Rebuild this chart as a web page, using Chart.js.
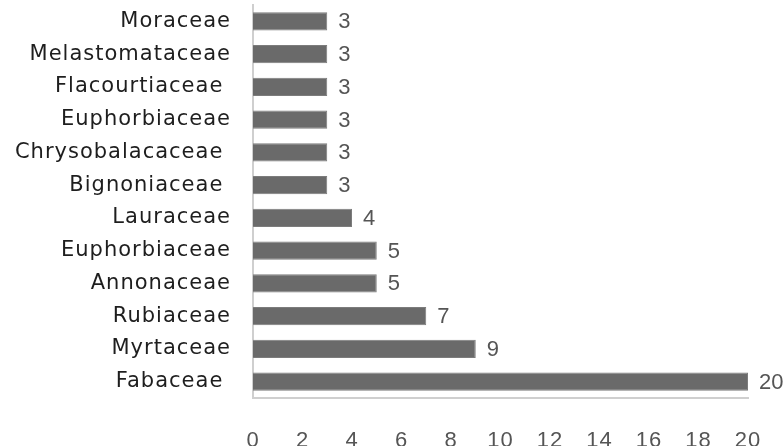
<!DOCTYPE html>
<html>
<head>
<meta charset="utf-8">
<script src="https://cdn.jsdelivr.net/npm/chart.js@4/dist/chart.umd.min.js"></script>
<style>
  html, body { margin: 0; padding: 0; background: #fff; }
  #chart-container { width: 784px; height: 446px; }
</style>
</head>
<body>
<div id="chart-container"><canvas id="grafica"></canvas></div>
<script>
const familias = ["Moraceae", "Melastomataceae", "Flacourtiaceae ", "Euphorbiaceae", "Chrysobalacaceae ",
    "Bignoniaceae ", "Lauraceae", "Euphorbiaceae", "Annonaceae", "Rubiaceae", "Myrtaceae", "Fabaceae "];
const especies = [3, 3, 3, 3, 3, 3, 4, 5, 5, 7, 9, 20];
const ticksX = [0, 2, 4, 6, 8, 10, 12, 14, 16, 18, 20];

// letras separadas en las etiquetas de familias, normales en el resto
const espaciado = {
    id: "espaciado",
    beforeDraw(chart) { chart.ctx.letterSpacing = "1px"; },
    beforeDatasetsDraw(chart) { chart.ctx.letterSpacing = "0px"; }
};

const etiquetasValor = {
    id: "etiquetasValor",
    afterDatasetsDraw(chart) {
        const ctx = chart.ctx;
        const meta = chart.getDatasetMeta(0);
        ctx.save();
        ctx.letterSpacing = "0px";
        ctx.font = "22px 'Liberation Sans Narrow', 'Liberation Sans', sans-serif";
        ctx.fillStyle = "#555";
        ctx.textAlign = "left";
        ctx.textBaseline = "middle";
        meta.data.forEach((bar, i) => {
            ctx.fillText(especies[i], bar.x + 11, bar.y + 1);
        });
        ctx.restore();
    }
};

const ctx = document.getElementById("grafica").getContext("2d");
new Chart(ctx, {
    type: "bar",
    data: {
        labels: familias,
        datasets: [{
            data: especies,
            backgroundColor: "#6a6a6a",
            borderColor: "#7c7c7c",
            borderWidth: 1,
            barPercentage: 0.55,
            categoryPercentage: 1
        }]
    },
    options: {
        indexAxis: "y",
        responsive: true,
        maintainAspectRatio: false,
        animation: false,
        layout: { padding: { top: 5, right: 36, left: 0, bottom: 0 } },
        plugins: {
            legend: { display: false },
            tooltip: { enabled: false }
        },
        scales: {
            x: {
                z: 1,
                min: 0,
                max: 20,
                afterBuildTicks: (scale) => { scale.ticks = ticksX.map(v => ({ value: v })); },
                grid: { display: false, drawTicks: false },
                border: { display: true, color: "#cfcfcf", width: 2 },
                ticks: {
                    padding: 30,
                    color: "#555",
                    font: { family: "'Liberation Sans Narrow', 'Liberation Sans', sans-serif", size: 22 }
                },
                afterFit: (scale) => {
                    scale.height = 48;
                    scale.paddingLeft = 0;
                    scale.paddingRight = 0;
                }
            },
            y: {
                grid: { display: false, drawTicks: false },
                border: { display: true, color: "#cfcfcf", width: 2 },
                ticks: {
                    padding: 22,
                    color: "#1e1e1e",
                    font: { family: "'DejaVu Sans', sans-serif", size: 21 }
                },
                afterFit: (scale) => {
                    scale.width = 253;
                    scale.paddingTop = 0;
                    scale.paddingBottom = 0;
                }
            }
        }
    },
    plugins: [espaciado, etiquetasValor]
});
</script>
</body>
</html>
